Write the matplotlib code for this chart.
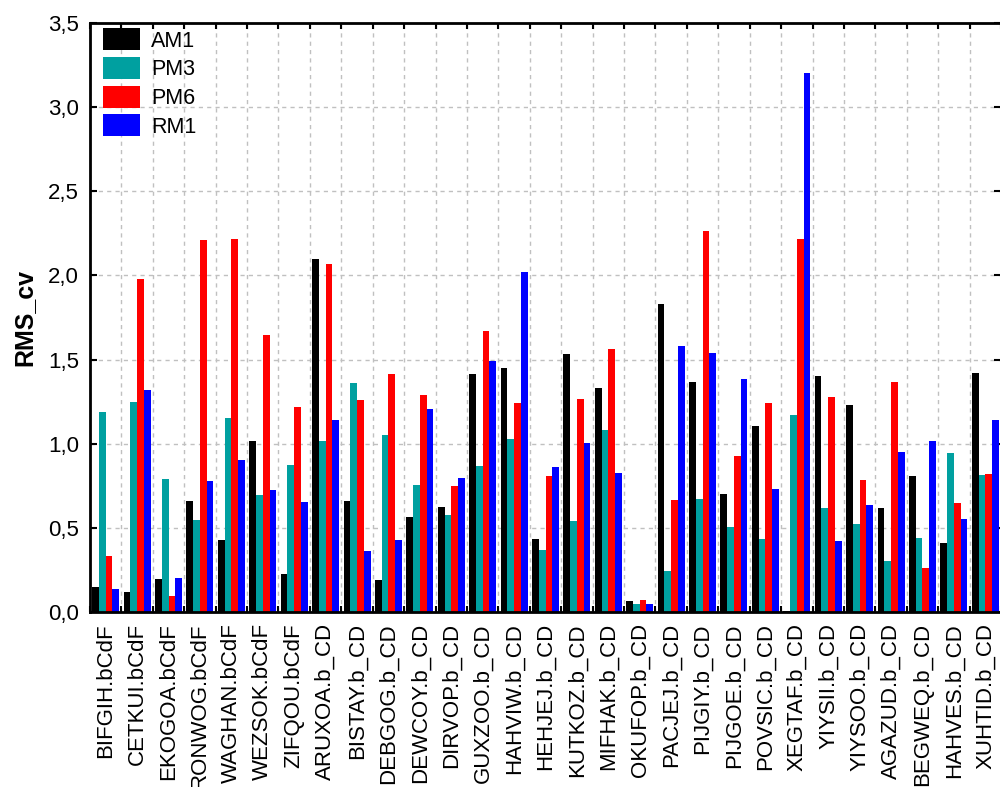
import numpy as np
import matplotlib
matplotlib.use('Agg')
import matplotlib.pyplot as plt
from matplotlib.ticker import FixedLocator, FuncFormatter

# Sample names (x categories)
samples = ['BIFGIH.bCdF', 'CETKUI.bCdF', 'EKOGOA.bCdF', 'RONWOG.bCdF', 'WAGHAN.bCdF',
           'WEZSOK.bCdF', 'ZIFQOU.bCdF', 'ARUXOA.b_CD', 'BISTAY.b_CD', 'DEBGOG.b_CD',
           'DEWCOY.b_CD', 'DIRVOP.b_CD', 'GUXZOO.b_CD', 'HAHVIW.b_CD', 'HEHJEJ.b_CD',
           'KUTKOZ.b_CD', 'MIFHAK.b_CD', 'OKUFOP.b_CD', 'PACJEJ.b_CD', 'PIJGIY.b_CD',
           'PIJGOE.b_CD', 'POVSIC.b_CD', 'XEGTAF.b_CD', 'YIYSII.b_CD', 'YIYSOO.b_CD',
           'AGAZUD.b_CD', 'BEGWEQ.b_CD', 'HAHVES.b_CD', 'XUHTID.b_CD']

# RMS_cv per method
am1 = [0.150, 0.120, 0.195, 0.660, 0.430, 1.014, 0.224, 2.100, 0.660, 0.188,
       0.564, 0.622, 1.416, 1.450, 0.435, 1.531, 1.330, 0.066, 1.829, 1.367,
       0.699, 1.104, 0.005, 1.403, 1.231, 0.619, 0.808, 0.409, 1.421]
pm3 = [1.189, 1.247, 0.792, 0.546, 1.154, 0.694, 0.874, 1.018, 1.362, 1.053,
       0.754, 0.578, 0.866, 1.029, 0.369, 0.541, 1.081, 0.047, 0.242, 0.673,
       0.505, 0.432, 1.172, 0.615, 0.522, 0.304, 0.438, 0.942, 0.816]
pm6 = [0.334, 1.980, 0.092, 2.210, 2.216, 1.647, 1.216, 2.070, 1.259, 1.414,
       1.288, 0.750, 1.667, 1.242, 0.808, 1.267, 1.565, 0.070, 0.668, 2.262,
       0.925, 1.244, 2.219, 1.278, 0.784, 1.369, 0.262, 0.649, 0.821]
rm1 = [0.139, 1.318, 0.202, 0.776, 0.903, 0.724, 0.651, 1.142, 0.365, 0.425,
       1.207, 0.799, 1.490, 2.020, 0.861, 1.003, 0.826, 0.048, 1.578, 1.541,
       1.384, 0.730, 3.203, 0.424, 0.637, 0.952, 1.014, 0.554, 1.141]

methods = ['AM1', 'PM3', 'PM6', 'RM1']
colors = ['#000000', '#00A0A0', '#FF0000', '#0000FF']

plt.rcParams['font.family'] = ['Liberation Sans', 'DejaVu Sans']

fig = plt.figure(figsize=(10, 7.87), dpi=100)
ax = fig.add_axes([0.09, 0.2224, 0.911, 0.7484])

x = np.arange(len(samples))
width = 0.215
for k, (name, vals) in enumerate(zip(methods, [am1, pm3, pm6, rm1])):
    ax.bar(x + (k - 1.5) * width, vals, width, color=colors[k], label=name,
           zorder=3, linewidth=0)

ax.set_xlim(-0.5, len(samples) - 0.5)
ax.set_ylim(0, 3.5)

# y axis
ax.set_yticks(np.arange(0, 3.51, 0.5))
ax.yaxis.set_major_formatter(FuncFormatter(lambda v, p: f'{v:.1f}'.replace('.', ',')))
ax.set_ylabel('RMS_cv', fontsize=18, fontweight='bold', labelpad=8)

# x axis: labels at centers, tick marks at group boundaries
ax.set_xticks(x)
ax.set_xticklabels(samples, rotation=90, fontsize=16)
ax.xaxis.set_minor_locator(FixedLocator(np.arange(-0.5, len(samples), 1.0)))
ax.tick_params(axis='x', which='major', length=0, pad=8)
ax.tick_params(axis='x', which='minor', direction='in', length=4, width=1.5,
               top=True, bottom=True)
ax.tick_params(axis='y', which='major', direction='in', length=5, width=1.5,
               left=True, right=True, labelsize=16, pad=8)

ax.grid(True, axis='y', which='major', color='#c0c0c0', linestyle=(0, (3, 3)), linewidth=1, zorder=0)
ax.grid(True, axis='x', which='minor', color='#c0c0c0', linestyle=(0, (3, 3)), linewidth=1, zorder=0)
ax.set_axisbelow(True)

for s in ax.spines.values():
    s.set_linewidth(2)
    s.set_zorder(4)

ax.legend(loc='upper left', bbox_to_anchor=(0.008, 1.0), frameon=False,
          fontsize=15.5, handlelength=1.75, handleheight=1.2, labelspacing=0.25,
          handletextpad=0.5, borderpad=0.25, borderaxespad=0)

fig.savefig('out.png', dpi=100)
